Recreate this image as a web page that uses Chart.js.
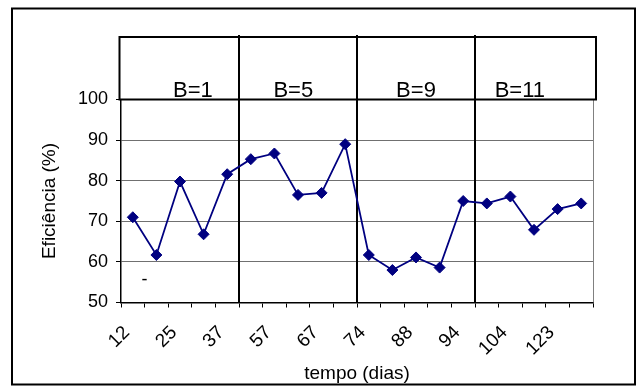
<!DOCTYPE html>
<html>
<head>
<meta charset="utf-8">
<script src="https://cdn.jsdelivr.net/npm/chart.js@4.4.1/dist/chart.umd.min.js"></script>
<style>
  html, body { margin: 0; padding: 0; background: #fff; }
</style>
</head>
<body>
<canvas id="grafico" width="639" height="389"></canvas>
<script>
// dias de operação (no eixo só aparece um rótulo a cada dois)
var dias = ['12', '18', '25', '31', '37', '45', '57', '60', '67', '70',
            '74', '81', '88', '91', '94', '98', '104', '115', '123', '130'];
// eficiência medida em cada dia (%)
var eficiencia = [71.0, 61.7, 79.8, 66.8, 81.6, 85.3, 86.7, 76.5, 77.0, 89.0,
                  61.7, 58.0, 61.1, 58.6, 75.0, 74.4, 76.1, 67.9, 73.0, 74.4];
var eixoY = { min: 50, max: 100, passo: 10 };
// faixas de operação e a primeira categoria de cada nova faixa
var faixas = ['B=1', 'B=5', 'B=9', 'B=11'];
var inicioFaixa = [5, 10, 15];
var posFaixa = [2.55, 6.8, 12.0, 16.4]; // centro do texto, em unidades de categoria

var fonte = 'Liberation Sans, Arial, sans-serif';

// moldura externa, caixa de cabeçalho e divisórias entre as faixas
var moldura = {
  id: 'moldura',
  beforeDatasetsDraw: function (chart) {
    var c = chart.ctx, a = chart.chartArea, x = chart.scales.x;
    var topoCaixa = a.top - 62.5;
    c.save();
    // borda direita da área de plotagem
    c.strokeStyle = '#808080';
    c.lineWidth = 1;
    c.beginPath();
    c.moveTo(a.right + 0.5, a.top);
    c.lineTo(a.right + 0.5, a.bottom);
    c.stroke();
    // caixa de cabeçalho
    c.strokeStyle = '#000';
    c.lineWidth = 2;
    c.strokeRect(a.left - 1.5, topoCaixa, a.right - a.left + 4.5, a.top - topoCaixa);
    // divisórias
    inicioFaixa.forEach(function (i) {
      var px = Math.round((x.getPixelForValue(i - 1) + x.getPixelForValue(i)) / 2);
      c.beginPath();
      c.moveTo(px, topoCaixa - 2);
      c.lineTo(px, a.bottom);
      c.stroke();
    });
    // nomes das faixas
    c.fillStyle = '#000';
    c.font = '22px ' + fonte;
    c.textAlign = 'center';
    c.textBaseline = 'alphabetic';
    faixas.forEach(function (t, i) {
      c.fillText(t, x.getPixelForValue(posFaixa[i]), a.top - 2.5);
    });
    // traço solto perto do primeiro ponto
    c.font = '18px ' + fonte;
    c.textBaseline = 'middle';
    c.fillText('-', x.getPixelForValue(0.5), chart.scales.y.getPixelForValue(55.5));
    c.restore();
  },
  afterDraw: function (chart) {
    var c = chart.ctx;
    c.save();
    c.strokeStyle = '#000';
    c.lineWidth = 2;
    c.strokeRect(12, 8.5, 623, 376);
    c.restore();
  }
};

new Chart(document.getElementById('grafico'), {
  type: 'line',
  data: {
    labels: dias,
    datasets: [{
      data: eficiencia,
      borderColor: '#000080',
      backgroundColor: '#000080',
      borderWidth: 1.8,
      pointStyle: 'rectRot',
      pointRadius: 5.5,
      pointBorderWidth: 1,
      tension: 0,
      fill: false
    }]
  },
  options: {
    responsive: false,
    animation: false,
    devicePixelRatio: 1,
    layout: { padding: { left: 0, top: 99.5, right: 46, bottom: 0 } },
    plugins: { legend: { display: false }, tooltip: { enabled: false } },
    scales: {
      x: {
        type: 'category',
        offset: true,
        afterFit: function (s) { s.height = 86.5; },
        grid: { offset: true, drawOnChartArea: false, tickLength: 5, tickColor: '#000' },
        border: { color: '#000', width: 1.5 },
        ticks: {
          autoSkip: false,
          minRotation: 45,
          maxRotation: 45,
          padding: 14,
          labelOffset: -6,
          color: '#000',
          font: { family: fonte, size: 19 },
          callback: function (v, i) { return i % 2 ? '' : dias[i]; }
        },
        title: {
          display: true,
          text: 'tempo (dias)',
          color: '#000',
          font: { family: fonte, size: 19 },
          padding: { top: 4, bottom: 4 }
        }
      },
      y: {
        min: eixoY.min,
        max: eixoY.max,
        afterFit: function (s) { s.width = 121; },
        grid: {
          tickLength: 5,
          tickColor: '#000',
          color: function (ctx) {
            var v = ctx.tick && ctx.tick.value;
            return (v === eixoY.min || v === eixoY.max) ? 'rgba(0,0,0,0)' : '#707070';
          }
        },
        border: { color: '#000', width: 1.5 },
        ticks: {
          stepSize: eixoY.passo,
          padding: 8,
          color: '#000',
          font: { family: fonte, size: 18 }
        },
        title: {
          display: true,
          text: 'Eficiência (%)',
          color: '#000',
          font: { family: fonte, size: 19 },
          padding: { top: 38.6, bottom: 0 }
        }
      }
    }
  },
  plugins: [moldura]
});
</script>
</body>
</html>
